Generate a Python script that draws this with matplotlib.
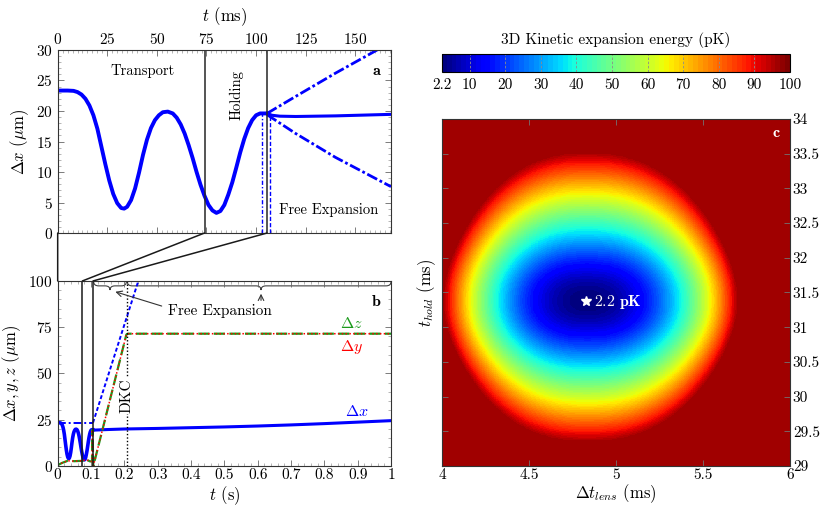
import numpy as np
import matplotlib
matplotlib.use("Agg")
import matplotlib.pyplot as plt
from matplotlib.ticker import MultipleLocator
from matplotlib.patches import ConnectionPatch, PathPatch
from matplotlib.path import Path

plt.rcParams['font.family'] = 'serif'
plt.rcParams['font.serif'] = ['cmr10']
plt.rcParams['mathtext.fontset'] = 'cm'
plt.rcParams['axes.formatter.use_mathtext'] = True
plt.rcParams['axes.unicode_minus'] = False

# ---- panel a / b : cloud size along x during transport + holding (ms, um)
t_transport = [0, 5, 8, 10, 12, 14, 16, 18, 20, 22, 24, 26, 28, 30, 32, 33.5, 35, 37, 39, 41,
               43, 45, 47, 49, 51, 53, 55.5, 58, 60, 62, 64, 66, 68, 70, 72, 74, 76, 78, 80,
               82, 84, 86, 88, 90, 92, 94, 96, 98, 100, 102, 104, 105.5]
dx_transport = [23.35, 23.35, 23.3, 23.1, 22.7, 22.0, 20.9, 19.3, 17.1, 14.2, 11.3, 8.6, 6.4, 4.9,
                4.1, 4.0, 4.3, 5.4, 7.3, 9.9, 12.8, 15.3, 17.2, 18.5, 19.3, 19.8, 19.9, 19.6, 18.9,
                17.8, 16.3, 14.4, 12.3, 10.0, 7.9, 6.1, 4.6, 3.7, 3.3, 3.6, 4.6, 6.3, 8.3, 10.7,
                13.2, 15.4, 17.2, 18.5, 19.3, 19.6, 19.6, 19.6]

# panel a free expansion branches (ms, um)
t_fe_mid = [105.5, 108, 112, 120, 140, 168]
dx_fe_mid = [19.6, 19.3, 19.15, 19.1, 19.2, 19.45]
t_fe_up = [105.5, 120, 140, 161]
dx_fe_up = [19.6, 22.4, 26.2, 30.0]
t_fe_low = [105.5, 120, 140, 168]
dx_fe_low = [19.4, 16.3, 12.4, 7.6]
phase_ms = [74, 105.5]
drop_t = [103.2, 107.2]
drop_top = [19.6, 19.2]

# panel b (s, um)
t_b_free = [0.1055, 0.11, 0.15, 0.2, 0.3, 0.4, 0.5, 0.6, 0.7, 0.8, 0.9, 1.0]
dx_b_free = [19.5, 19.4, 19.7, 20.0, 20.3, 20.7, 21.1, 21.6, 22.2, 22.9, 23.7, 24.5]
t_b_ref = [0, 0.106, 0.242]
dx_b_ref = [23.4, 23.4, 100]
t_yz = [0, 0.015, 0.03, 0.05, 0.075, 0.085, 0.097, 0.103, 0.104, 0.107, 0.206, 0.21, 1.0]
dy_vals = [0.5, 1.8, 2.8, 2.6, 2.8, 3.5, 2.5, 2.5, 19.5, 0.0, 71.0, 71.5, 71.5]
dz_vals = [0.5, 1.8, 2.8, 2.6, 2.8, 3.5, 2.5, 2.5, 19.5, 0.0, 71.0, 71.5, 71.5]
phase_s = [0.074, 0.106]
dkc_s = 0.207
b_xticks = [0, 0.1, 0.2, 0.3, 0.4, 0.5, 0.6, 0.7, 0.8, 0.9, 1.0]
b_xlabels = ['0', '0.1', '0.2', '0.3', '0.4', '0.5', '0.6', '0.7', '0.8', '0.9', '1']

# ---- panel c : energy landscape
E_MIN = 2.2
E_SAT = 96.4
CENTER = (4.83, 31.38)
RED_LEFT, RED_RIGHT = 0.79, 0.83     # half widths of ~89 pK contour (ms)
RED_DOWN, RED_UP = 1.90, 2.00
V_SCALE = 0.45                       # vertical curvature length (ms)
cbar_ticks = [2.2, 10, 20, 30, 40, 50, 60, 70, 80, 90, 100]
c_yticks = [29, 29.5, 30, 30.5, 31, 31.5, 32, 32.5, 33, 33.5, 34]
c_ylabels = ['29', '29.5', '30', '30.5', '31', '31.5', '32', '32.5', '33', '33.5', '34']
c_xticks = [4, 4.5, 5, 5.5, 6]
c_xlabels = ['4', '4.5', '5', '5.5', '6']

TK = 11
LAB = 12
ANN = 10.5


def style(ax):
    ax.tick_params(which='both', direction='in', top=True, right=True, labelsize=TK)
    ax.tick_params(which='major', length=4, width=0.6, color='0.4')
    ax.tick_params(which='minor', length=2.5, width=0.5, color='0.6')
    for s in ax.spines.values():
        s.set_linewidth(0.8)
        s.set_color('0.2')


def brace(ax, x0, x1, xtip, y, h, w=0.015):
    verts = [(x0, y), (x0, y - h / 2), (x0 + w, y - h / 2), (xtip - w, y - h / 2),
             (xtip, y - h / 2), (xtip, y - h), (xtip, y - h / 2), (xtip + w, y - h / 2),
             (x1 - w, y - h / 2), (x1, y - h / 2), (x1, y)]
    codes = [Path.MOVETO, Path.CURVE3, Path.CURVE3, Path.LINETO, Path.CURVE3, Path.CURVE3,
             Path.CURVE3, Path.CURVE3, Path.LINETO, Path.CURVE3, Path.CURVE3]
    ax.add_patch(PathPatch(Path(verts, codes), fill=False, lw=0.8, ec='0.25', clip_on=False))


fig = plt.figure(figsize=(8.3, 5.09), dpi=100)

# ---------------- panel a
axa = fig.add_axes([0.0695, 0.5422, 0.4016, 0.3596])
axa.plot(t_transport, dx_transport, color='blue', lw=2.8)
axa.plot(t_fe_mid, dx_fe_mid, color='blue', lw=2.2)
axa.plot(t_fe_up, dx_fe_up, color='blue', lw=2.0, ls=(0, (4, 1, 1, 1)))
axa.plot(t_fe_low, dx_fe_low, color='blue', lw=2.0, ls=(0, (4, 1, 1, 1)))
for p in phase_ms:
    axa.axvline(p, color='0.15', lw=1.1)
axa.plot([drop_t[0]] * 2, [0, drop_top[0]], color='blue', lw=1.0, ls=(0, (3, 1.5, 1, 1.5)))
axa.plot([drop_t[1]] * 2, [0, drop_top[1]], color='blue', lw=1.0, ls=(0, (3, 1.5)))
axa.set_xlim(0, 168)
axa.set_ylim(0, 30)
axa.set_xticks([0, 25, 50, 75, 100, 125, 150])
axa.set_yticks([0, 5, 10, 15, 20, 25, 30])
axa.xaxis.set_minor_locator(MultipleLocator(2.5))
axa.yaxis.set_minor_locator(MultipleLocator(1))
style(axa)
axa.tick_params(axis='x', labeltop=True, labelbottom=False, pad=2)
axa.xaxis.set_label_position('top')
axa.set_xlabel(r'$t$ (ms)', fontsize=LAB, labelpad=8)
axa.set_ylabel(r'$\Delta x$ ($\mu$m)', fontsize=LAB, labelpad=4)
axa.text(42.7, 26.5, 'Transport', fontsize=ANN, ha='center', va='center')
axa.text(90, 22.6, 'Holding', fontsize=ANN, ha='center', va='center', rotation=90)
axa.text(136.6, 3.7, 'Free Expansion', fontsize=ANN, ha='center', va='center')
axa.text(160.7, 26.5, r'$\mathbf{a}$', fontsize=ANN + 1, ha='center', va='center')

# ---------------- panel b
axb = fig.add_axes([0.0695, 0.0845, 0.4016, 0.3635])
t_tr_s = np.array(t_transport) / 1000.0
axb.plot(t_tr_s, dx_transport, color='blue', lw=2.6)
axb.plot(t_b_free, dx_b_free, color='blue', lw=2.2)
axb.plot(t_b_ref[:2], dx_b_ref[:2], color='blue', lw=1.4, ls=(0, (4, 1.5, 1, 1.5)))
axb.plot(t_b_ref[1:], dx_b_ref[1:], color='blue', lw=1.4, ls=(0, (2, 1.2)))
axb.plot(t_yz, dz_vals, color='#1a9a1a', lw=1.6, ls=(0, (5, 2)))
axb.plot(t_yz, dy_vals, color='red', lw=1.1, ls=(0, (1, 1.5)))
for p in phase_s:
    axb.axvline(p, color='0.1', lw=1.1)
axb.axvline(dkc_s, color='k', lw=1.0, ls=(0, (1, 1.5)))
axb.text(dkc_s, 38, 'DKC', fontsize=ANN + 0.5, rotation=90, ha='center', va='center',
         bbox=dict(fc='white', ec='none', pad=0.5))
axb.set_xlim(0, 1)
axb.set_ylim(0, 100)
axb.set_xticks(b_xticks)
axb.set_xticklabels(b_xlabels)
axb.set_yticks([0, 25, 50, 75, 100])
axb.xaxis.set_minor_locator(MultipleLocator(0.02))
axb.yaxis.set_minor_locator(MultipleLocator(5))
style(axb)
axb.tick_params(axis='x', pad=2)
axb.set_xlabel(r'$t$ (s)', fontsize=LAB, labelpad=1)
axb.set_ylabel(r'$\Delta x, y, z$ ($\mu$m)', fontsize=LAB, labelpad=4)
axb.text(0.882, 77, r'$\Delta z$', color='#1a9a1a', fontsize=ANN + 1, ha='center', va='center')
axb.text(0.882, 64.5, r'$\Delta y$', color='red', fontsize=ANN + 1, ha='center', va='center')
axb.text(0.897, 29.5, r'$\Delta x$', color='blue', fontsize=ANN + 1, ha='center', va='center')
axb.text(0.957, 89, r'$\mathbf{b}$', fontsize=ANN + 1, ha='center', va='center')
brace(axb, 0.108, 0.206, 0.157, 99.6, 4.5)
brace(axb, 0.209, 1.0, 0.61, 99.6, 4.5)
axb.text(0.488, 83.5, 'Free Expansion', fontsize=ANN + 0.5, ha='center', va='center')
axb.annotate('', xy=(0.165, 94.6), xytext=(0.32, 86.0),
             arrowprops=dict(arrowstyle='->', lw=0.8, color='0.2'))
axb.annotate('', xy=(0.61, 94.6), xytext=(0.61, 88.0),
             arrowprops=dict(arrowstyle='->', lw=0.8, color='0.2'))

# connectors between a and b
conns = [((0, 0), (0, 100)), ((phase_ms[0], 0), (phase_s[0], 100)),
         ((phase_ms[1], 0), (phase_s[1], 100))]
for xa, xb in conns:
    cp = ConnectionPatch(xyA=xa, coordsA=axa.transData, xyB=xb, coordsB=axb.transData,
                         color='0.1', lw=1.1)
    fig.add_artist(cp)

# ---------------- panel c
axc = fig.add_axes([0.5325, 0.0845, 0.4193, 0.6817])
xs = np.linspace(4, 6, 500)
ys = np.linspace(29, 34, 500)
X, Y = np.meshgrid(xs, ys)
dx = X - CENTER[0]
dy = Y - CENTER[1]
u = np.abs(dx) / np.where(dx > 0, RED_RIGHT, RED_LEFT)
sy = np.where(dy > 0, RED_UP, RED_DOWN)
g = (np.sqrt(1 + (dy / V_SCALE) ** 2) - 1) / (np.sqrt(1 + (sy / V_SCALE) ** 2) - 1)
w = np.sqrt(g)
S = (u ** 2.4 + w ** 2.4) ** (2.0 / 2.4)
E = np.minimum(E_MIN + 87.0 * S, E_SAT)
cmap = plt.get_cmap('jet', 72)
im = axc.imshow(E, extent=[4, 6, 29, 34], origin='lower', aspect='auto', cmap=cmap,
                vmin=2.2, vmax=100, interpolation='nearest')
axc.plot(CENTER[0], CENTER[1], marker='*', color='white', ms=7, mec='white')
axc.text(CENTER[0] + 0.045, CENTER[1] - 0.02, r'$\mathbf{2.2\ pK}$', color='white',
         fontsize=ANN + 1, ha='left', va='center')
axc.text(5.92, 33.8, r'$\mathbf{c}$', color='white', fontsize=ANN + 1, ha='center', va='center')
axc.set_xlim(4, 6)
axc.set_ylim(29, 34)
axc.set_xticks(c_xticks)
axc.set_xticklabels(c_xlabels)
axc.set_yticks(c_yticks)
axc.set_yticklabels(c_ylabels)
axc.tick_params(direction='in', top=True, right=True, left=True, labelleft=False,
                labelright=True, labelsize=TK, length=4, width=0.6, color='0.45', pad=2)
for s in axc.spines.values():
    s.set_linewidth(0.8)
    s.set_color('0.2')
axc.yaxis.set_label_position('left')
axc.set_ylabel(r'$t_{hold}$ (ms)', fontsize=LAB, labelpad=3)
axc.set_xlabel(r'$\Delta t_{lens}$ (ms)', fontsize=LAB, labelpad=0)

# colorbar
cax = fig.add_axes([0.5325, 0.858, 0.4193, 0.036])
cb = fig.colorbar(im, cax=cax, orientation='horizontal')
cb.set_ticks(cbar_ticks)
cb.set_ticklabels(['2.2', '10', '20', '30', '40', '50', '60', '70', '80', '90', '100'])
cax.tick_params(length=0, labelsize=TK, pad=4)
for tv in cbar_ticks[1:-1]:
    cax.axvline(tv, color='0.55', lw=0.6, ls=(0, (3, 2)))
cb.outline.set_linewidth(0.8)
cax.set_title('3D Kinetic expansion energy (pK)', fontsize=ANN + 0.5, pad=7)

fig.savefig('out.png', dpi=100)
